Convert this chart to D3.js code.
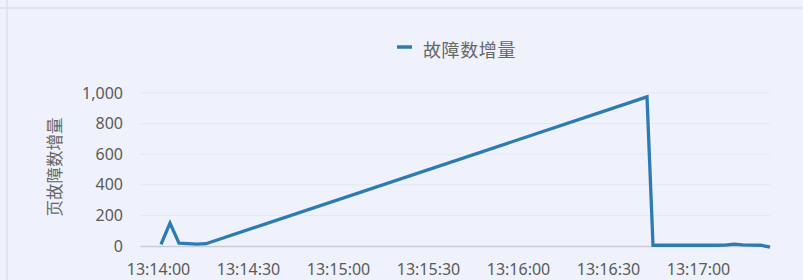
<!DOCTYPE html>
<html><head><meta charset="utf-8">
<script src="https://cdn.jsdelivr.net/npm/d3@7"></script>
<style>
html,body{margin:0;padding:0;background:#eff2fc;}
svg{display:block;font-family:"Noto Sans CJK SC","Noto Sans",sans-serif;}
</style></head>
<body>
<svg id="c" width="803" height="280"></svg>
<script>
const times = ["13:14:01","13:14:04","13:14:07","13:14:10","13:14:13","13:14:16","13:16:43","13:16:45","13:17:06","13:17:09","13:17:12","13:17:15","13:17:18","13:17:21","13:17:24"];
const values = [10,150,18,15,12,15,975,5,5,6,12,8,6,5,-8];
const yTicks = [0,200,400,600,800,1000];
const xTickLabels = ["13:14:00","13:14:30","13:15:00","13:15:30","13:16:00","13:16:30","13:17:00"];
const seriesName = "故障数增量";
const yTitle = "页故障数增量";

const parse = d3.timeParse("%H:%M:%S");
const data = times.map((t,i)=>({t:parse(t), v:values[i]}));
const svg = d3.select("#c");

// panel borders
svg.append("rect").attr("x",0).attr("y",7).attr("width",803).attr("height",2).attr("fill","#dde5f5");
svg.append("rect").attr("x",6).attr("y",0).attr("width",2).attr("height",280).attr("fill","#dde5f5");

const x0 = parse("13:14:00");
const x = d3.scaleTime()
  .domain([d3.timeSecond.offset(x0,-5.3), d3.timeSecond.offset(x0,204.2)])
  .range([140,770]);
const y = d3.scaleLinear().domain([0,1000]).range([246,93]);

// grid
svg.append("g").selectAll("line").data(yTicks.filter(d=>d>0)).join("line")
  .attr("x1",140).attr("x2",770).attr("y1",d=>y(d)).attr("y2",d=>y(d))
  .attr("stroke","#e2e7f3").attr("stroke-width",1);

// y axis
const yAxis = svg.append("g").attr("transform","translate(140,0)")
  .call(d3.axisLeft(y).tickValues(yTicks).tickFormat(d3.format(",")).tickSize(0).tickPadding(17));
yAxis.select(".domain").remove();
yAxis.selectAll("text").attr("fill","#5a5a5a").attr("font-size",16).attr("font-family","'Noto Sans', sans-serif");

// x axis
const xTicks = xTickLabels.map(parse);
const xAxis = svg.append("g").attr("transform","translate(0,246)")
  .call(d3.axisBottom(x).tickValues(xTicks).tickFormat(d3.timeFormat("%H:%M:%S")).tickSize(0).tickPadding(18));
xAxis.select(".domain").attr("stroke","#c8ccd4").attr("stroke-width",1.5);
xAxis.selectAll("text").attr("fill","#5a5a5a").attr("font-size",16).attr("font-family","'Noto Sans', sans-serif");

// y title
svg.append("text").attr("transform","translate(54,167) rotate(-90)")
  .attr("text-anchor","middle").attr("dominant-baseline","central")
  .attr("fill","#666").attr("font-size",16.5).text(yTitle);

// line
svg.append("path").datum(data)
  .attr("fill","none").attr("stroke","#2e7bb4").attr("stroke-width",3.3)
  .attr("stroke-linejoin","miter")
  .attr("d", d3.line().x(d=>x(d.t)).y(d=>y(d.v)));

// legend
svg.append("line").attr("x1",397).attr("x2",412).attr("y1",47).attr("y2",47)
  .attr("stroke","#2e7bb4").attr("stroke-width",3.5);
svg.append("text").attr("x",423).attr("y",49).attr("dominant-baseline","central")
  .attr("fill","#666").attr("font-size",18).attr("letter-spacing",0.6).text(seriesName);
</script>
</body></html>
